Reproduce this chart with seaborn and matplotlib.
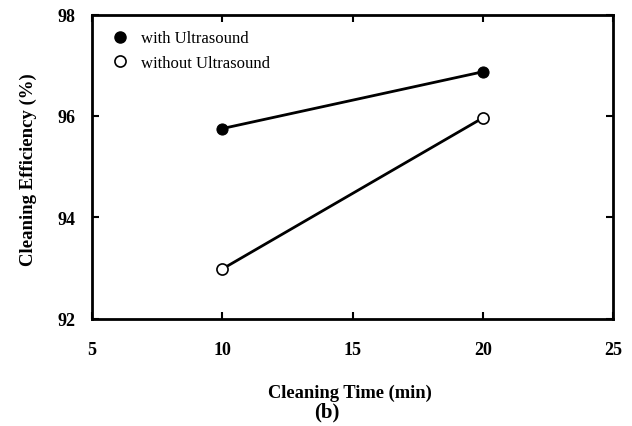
import matplotlib
matplotlib.use("Agg")
import matplotlib.pyplot as plt
import seaborn as sns
import pandas as pd
from matplotlib.lines import Line2D

# values
times = [10, 20]
with_us = [95.75, 96.87]
without_us = [92.98, 95.96]
labels = ["with Ultrasound", "without Ultrasound"]

df = pd.DataFrame({
    "time": times * 2,
    "eff": with_us + without_us,
    "group": [labels[0]] * len(times) + [labels[1]] * len(times),
})

sns.set_theme(style="white")
plt.rcParams["font.family"] = ["Liberation Serif", "DejaVu Serif"]
plt.rcParams["text.color"] = "black"
plt.rcParams["axes.labelcolor"] = "black"

fig = plt.figure(figsize=(6.32, 4.27), dpi=100)
ax = fig.add_axes([0.1456, 0.2513, 0.8244, 0.7124])

sns.lineplot(data=df[df["group"] == labels[0]], x="time", y="eff", ax=ax,
             color="black", lw=2, marker="o", markersize=8,
             markerfacecolor="black", markeredgecolor="black", legend=False)
sns.lineplot(data=df[df["group"] == labels[1]], x="time", y="eff", ax=ax,
             color="black", lw=2, marker="o", markersize=8,
             markerfacecolor="white", markeredgecolor="black",
             markeredgewidth=1.2, legend=False)

ax.set_xlim(5, 25)
ax.set_ylim(92, 98)
ax.set_xticks([5, 10, 15, 20, 25])
ax.set_yticks([92, 94, 96, 98])
ax.tick_params(direction="in", length=5, width=1.5, top=True, right=True,
               bottom=True, left=True, labelsize=13, colors="black")
ax.tick_params(axis="x", pad=16)
ax.tick_params(axis="y", pad=12)
for t in ax.get_xticklabels() + ax.get_yticklabels():
    t.set_fontweight("bold")
for s in ax.spines.values():
    s.set_linewidth(2)
    s.set_color("black")

ax.set_xlabel("Cleaning Time (min)", fontsize=13.3, fontweight="bold")
ax.set_ylabel("Cleaning Efficiency (%)", fontsize=13.5, fontweight="bold")
ax.xaxis.set_label_coords(0.495, -0.215)
ax.yaxis.set_label_coords(-0.106, 0.492)

handles = [
    Line2D([], [], ls="none", marker="o", markersize=8,
           markerfacecolor="black", markeredgecolor="black"),
    Line2D([], [], ls="none", marker="o", markersize=8,
           markerfacecolor="white", markeredgecolor="black", markeredgewidth=1.2),
]
ax.legend(handles, labels, loc="upper left", frameon=False, fontsize=12,
          handlelength=1.5, handletextpad=0.5, borderaxespad=0.55,
          labelspacing=0.5, labelcolor="black")

fig.text(327 / 632, 1 - 412 / 427, "(b)", ha="center", va="center",
         fontsize=15, fontweight="bold")

fig.savefig("out.png", dpi=100)
